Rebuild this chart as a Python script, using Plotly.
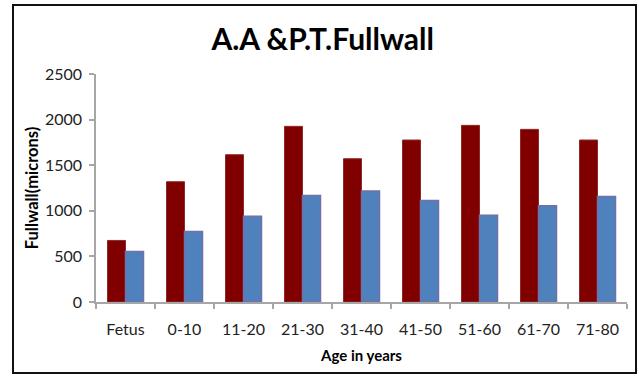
import plotly.graph_objects as go

categories = ["Fetus", "0-10", "11-20", "21-30", "31-40", "41-50", "51-60", "61-70", "71-80"]
series_aa = [675, 1319, 1615, 1926, 1571, 1776, 1937, 1893, 1776]
series_pt = [555, 774, 939, 1169, 1217, 1114, 950, 1056, 1158]
y_ticks = [0, 500, 1000, 1500, 2000, 2500]

W, H = 639, 377
L, R, T, B = 96, 12, 74, 75

fig = go.Figure()
fig.add_trace(go.Bar(x=categories, y=series_aa, name="A.A",
                     marker=dict(color="#800000", line=dict(color="#8E2A2A", width=1))))
fig.add_trace(go.Bar(x=categories, y=series_pt, name="P.T",
                     marker=dict(color="#4F81BD", line=dict(color="#7270A8", width=1.5))))

pw = W - L - R
ph = H - T - B
def px(x):
    return (x - L) / pw
def py(y):
    return (H - B - y) / ph

fig.update_layout(
    width=W, height=H,
    margin=dict(l=L, r=R, t=T, b=B),
    paper_bgcolor="white", plot_bgcolor="white",
    showlegend=False,
    barmode="group", bargap=0.39, bargroupgap=0,
    font=dict(family="Lato", color="#222222"),
    title=dict(text="<b>A.A &P.T.Fullwall</b>", x=0.505, xanchor="center",
               y=1 - 39 / H, yanchor="middle",
               font=dict(family="Lato", size=30, color="#000000")),
    xaxis=dict(
        showline=True, linecolor="#A6A6A6", linewidth=1.5,
        ticks="outside", tickson="boundaries", ticklen=5, tickcolor="#A6A6A6", tickwidth=1.5,
        tickfont=dict(family="Lato", size=16, color="#222222"),
        ticklabelstandoff=12,
        title=dict(text="<b>Age in years</b>", font=dict(family="Lato", size=15, color="#000000"), standoff=14),
        showgrid=False, zeroline=False,
    ),
    yaxis=dict(
        range=[0, 2500], tickvals=y_ticks,
        showline=True, linecolor="#A6A6A6", linewidth=1.5,
        ticks="outside", ticklen=5, tickcolor="#A6A6A6", tickwidth=1.5,
        tickfont=dict(family="Lato", size=16, color="#222222"),
        ticklabelstandoff=4,
        title=dict(text="<b>Fullwall(microns)</b>", font=dict(family="Lato", size=16.5, color="#000000"), standoff=2),
        showgrid=False, zeroline=False,
    ),
    shapes=[dict(type="rect", xref="paper", yref="paper",
                 x0=px(13), x1=px(636), y0=py(373), y1=py(5),
                 line=dict(color="#111111", width=2), fillcolor="rgba(0,0,0,0)", layer="below")],
)

fig.write_html("out.html")
